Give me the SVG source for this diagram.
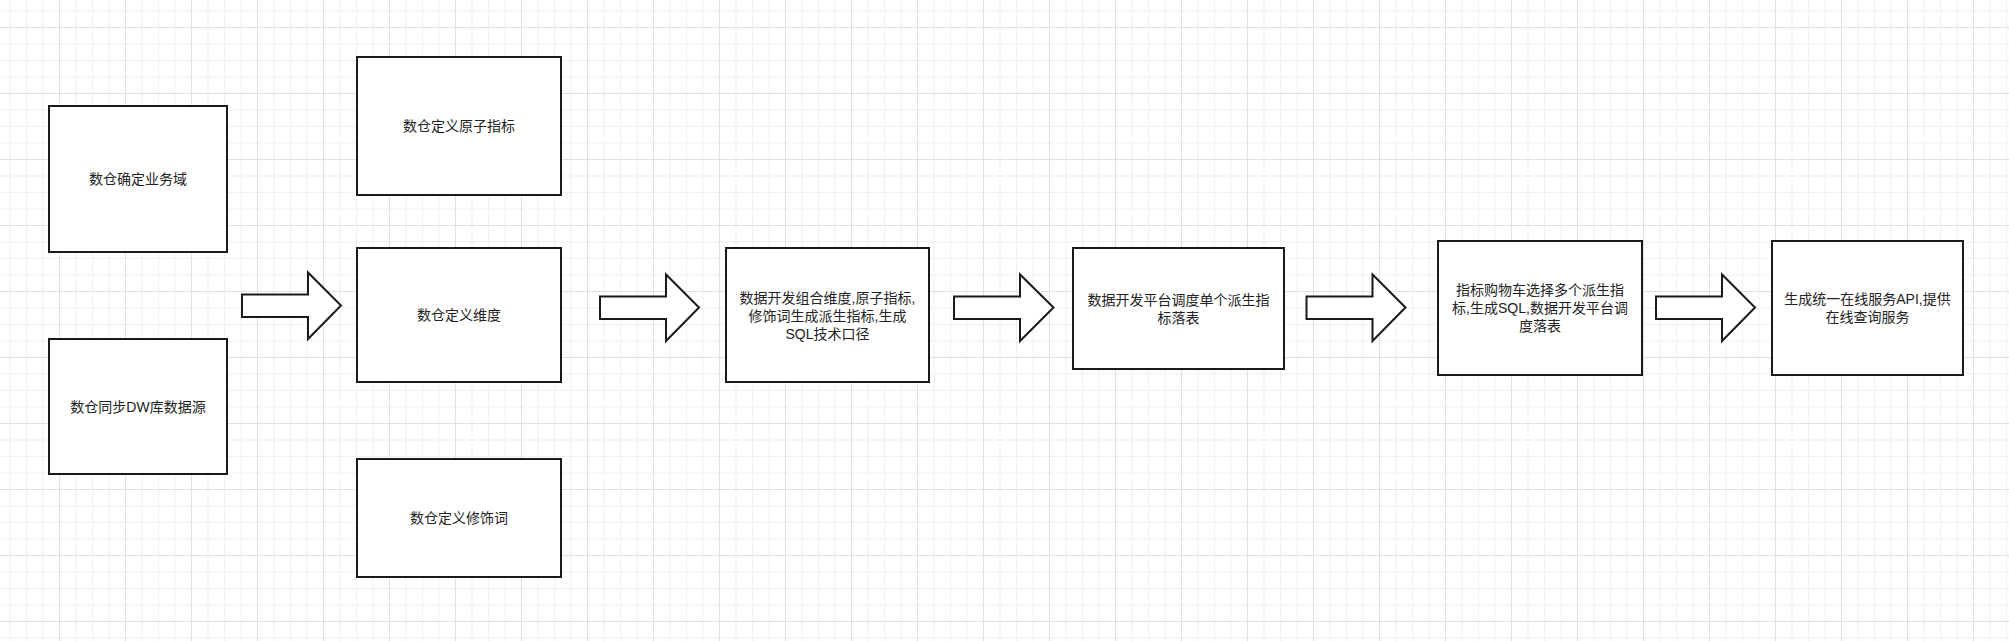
<svg xmlns="http://www.w3.org/2000/svg" width="2009" height="641" viewBox="0 0 2009 641">
<style>
.box{fill:#ffffff;stroke:#1a1a1a;stroke-width:2}
.arrow{fill:#ffffff;stroke:#1a1a1a;stroke-width:2;stroke-linejoin:miter}
.lbl{font-family:"Liberation Sans","Noto Sans CJK SC",sans-serif;font-size:14px;fill:#222222;text-anchor:middle;dominant-baseline:central}
</style>
<defs>
<pattern id="grid" patternUnits="userSpaceOnUse" x="59" y="27" width="66" height="66">
<rect x="16.5" y="0" width="1" height="66" fill="#f0f0f0"/>
<rect x="33" y="0" width="1" height="66" fill="#f0f0f0"/>
<rect x="49.5" y="0" width="1" height="66" fill="#f0f0f0"/>
<rect x="0" y="16.5" width="66" height="1" fill="#f0f0f0"/>
<rect x="0" y="33" width="66" height="1" fill="#f0f0f0"/>
<rect x="0" y="49.5" width="66" height="1" fill="#f0f0f0"/>
<rect x="0" y="0" width="1" height="66" fill="#e0e0e0"/>
<rect x="0" y="0" width="66" height="1" fill="#e0e0e0"/>
</pattern>
</defs>
<rect x="0" y="0" width="2009" height="641" fill="#ffffff"/>
<rect x="0" y="0" width="2009" height="641" fill="url(#grid)"/>

<g id="connectors">
<polygon class="arrow" points="242,294.5 308,294.5 308,272.5 341,305.5 308,339 308,317 242,317"/>
<polygon class="arrow" points="600,296.5 666,296.5 666,274.5 699,307.5 666,341 666,319 600,319"/>
<polygon class="arrow" points="954,296.5 1020,296.5 1020,274.5 1053.5,307.5 1020,341 1020,319 954,319"/>
<polygon class="arrow" points="1306.5,296.5 1372.5,296.5 1372.5,274.5 1405.5,307.5 1372.5,341 1372.5,319 1306.5,319"/>
<polygon class="arrow" points="1656,296.5 1722,296.5 1722,274.5 1755,307.5 1722,341 1722,319 1656,319"/>
</g>

<g id="node-domain">
<rect class="box" x="49" y="106" width="178" height="146"/>
<text class="lbl" x="138" y="179">数仓确定业务域</text>
</g>
<g id="node-datasource">
<rect class="box" x="49" y="339" width="178" height="135"/>
<text class="lbl" x="138" y="406.5">数仓同步DW库数据源</text>
</g>
<g id="node-atomic">
<rect class="box" x="357" y="57" width="204" height="138"/>
<text class="lbl" x="459" y="126">数仓定义原子指标</text>
</g>
<g id="node-dimension">
<rect class="box" x="357" y="248" width="204" height="134"/>
<text class="lbl" x="459" y="315">数仓定义维度</text>
</g>
<g id="node-modifier">
<rect class="box" x="357" y="459" width="204" height="118"/>
<text class="lbl" x="459" y="518">数仓定义修饰词</text>
</g>
<g id="node-derive">
<rect class="box" x="726" y="248" width="203" height="134"/>
<text class="lbl" x="827.5" y="298">数据开发组合维度,原子指标,</text>
<text class="lbl" x="827.5" y="316">修饰词生成派生指标,生成</text>
<text class="lbl" x="827.5" y="334">SQL技术口径</text>
</g>
<g id="node-schedule">
<rect class="box" x="1073" y="248" width="211" height="121"/>
<text class="lbl" x="1178.5" y="299.5">数据开发平台调度单个派生指</text>
<text class="lbl" x="1178.5" y="317.5">标落表</text>
</g>
<g id="node-cart">
<rect class="box" x="1438" y="241" width="204" height="134"/>
<text class="lbl" x="1540" y="290">指标购物车选择多个派生指</text>
<text class="lbl" x="1540" y="308">标,生成SQL,数据开发平台调</text>
<text class="lbl" x="1540" y="326">度落表</text>
</g>
<g id="node-api">
<rect class="box" x="1772" y="241" width="191" height="134"/>
<text class="lbl" x="1867.5" y="299">生成统一在线服务API,提供</text>
<text class="lbl" x="1867.5" y="317">在线查询服务</text>
</g>
</svg>
